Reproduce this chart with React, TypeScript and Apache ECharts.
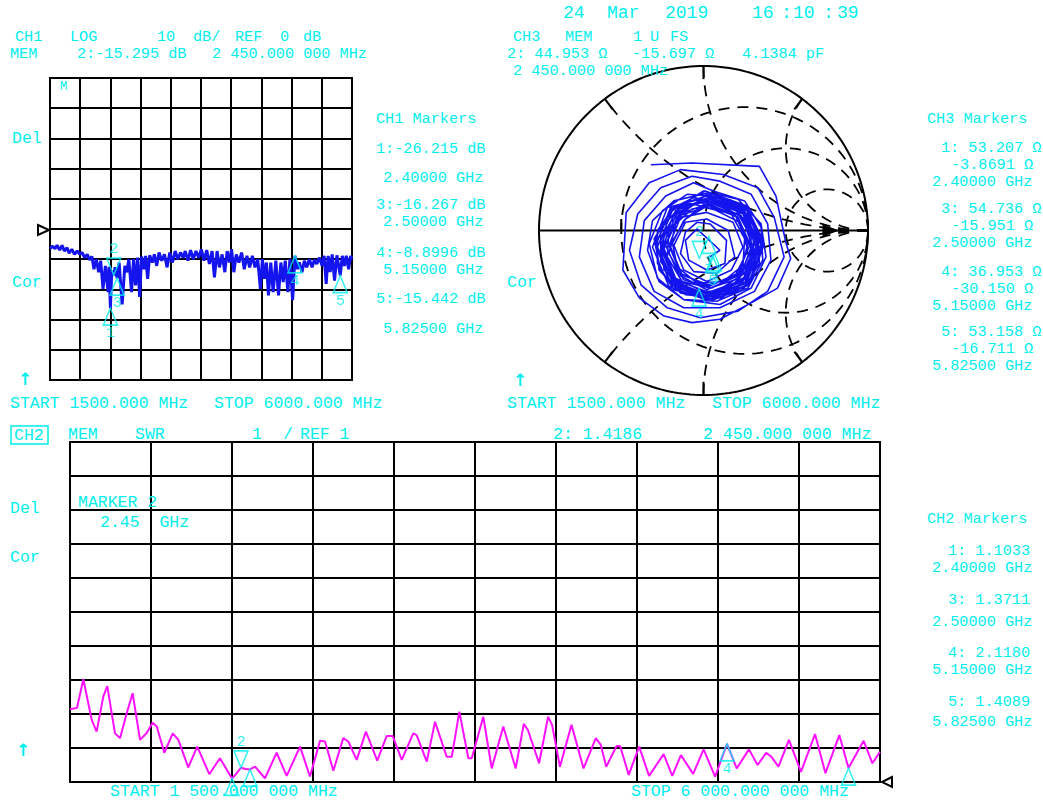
import React, { useEffect, useRef } from "react";
import * as echarts from "echarts";

const CYAN = "#00eeee";
const BLUE = "#1414ee";
const MAGENTA = "#ff10ff";
const FONT = "'Liberation Mono', 'DejaVu Sans Mono', monospace";
const FS = 16.5;
const FS_M = 15.2;

// ---------- data ----------
const ch1Freq = [1500, 1540, 1575, 1605, 1645, 1680, 1715, 1755, 1785, 1825, 1865, 1905, 1945, 1980, 2015, 2055, 2090, 2125, 2155, 2190, 2225, 2255, 2290, 2325, 2365, 2380, 2400, 2420, 2450, 2470, 2500, 2530, 2575, 2615, 2645, 2675, 2715, 2745, 2775, 2805, 2835, 2865, 2900, 2925, 2955, 2985, 3025, 3055, 3090, 3125, 3165, 3205, 3245, 3285, 3325, 3365, 3405, 3445, 3485, 3515, 3555, 3595, 3635, 3675, 3715, 3755, 3795, 3835, 3875, 3915, 3950, 3990, 4025, 4065, 4105, 4140, 4175, 4205, 4240, 4275, 4315, 4355, 4395, 4435, 4475, 4515, 4555, 4595, 4635, 4665, 4695, 4725, 4755, 4790, 4825, 4865, 4905, 4940, 4975, 5005, 5045, 5075, 5115, 5150, 5185, 5215, 5255, 5290, 5325, 5365, 5405, 5440, 5475, 5515, 5555, 5585, 5615, 5645, 5675, 5705, 5740, 5775, 5825, 5855, 5885, 5915, 5950, 5980, 6000];
const ch1Db = [-6.5, -5.7, -6.5, -5.4, -7.0, -5.4, -7.3, -6.2, -8.0, -6.7, -8.4, -7.3, -8.4, -7.8, -9.5, -8.4, -10.2, -9.1, -13.3, -10.0, -14.3, -10.5, -19.8, -12.2, -20.9, -12.5, -26.2, -14.0, -15.3, -12.7, -16.3, -11.1, -25.0, -12.2, -14.3, -10.0, -20.9, -10.0, -18.7, -9.5, -22.5, -9.1, -13.3, -8.9, -16.5, -8.7, -11.1, -8.4, -12.2, -7.8, -10.5, -8.4, -12.7, -7.8, -11.1, -7.3, -10.0, -7.8, -9.5, -7.3, -10.5, -7.0, -10.0, -7.3, -9.5, -6.7, -10.5, -7.0, -11.6, -7.3, -16.0, -7.3, -12.7, -8.4, -14.3, -7.3, -11.1, -6.7, -14.3, -8.4, -11.1, -7.8, -13.3, -8.9, -12.7, -8.9, -12.7, -10.0, -19.8, -10.0, -16.5, -11.1, -22.0, -11.1, -20.9, -10.5, -22.0, -11.1, -17.6, -10.5, -20.9, -10.0, -23.6, -8.9, -13.3, -11.1, -14.3, -10.5, -12.7, -10.0, -12.7, -10.2, -11.6, -9.5, -12.2, -8.9, -18.2, -8.9, -14.3, -8.4, -17.1, -8.7, -15.4, -8.9, -12.2, -8.9, -13.3, -8.9, -10.0];

const ch2Freq = [1500, 1539, 1574, 1621, 1648, 1685, 1707, 1750, 1778, 1815, 1848, 1889, 1926, 1959, 1982, 2024, 2071, 2102, 2157, 2207, 2274, 2333, 2400, 2425, 2450, 2475, 2500, 2528, 2583, 2648, 2704, 2778, 2833, 2889, 2917, 2963, 3018, 3046, 3093, 3144, 3207, 3259, 3293, 3343, 3407, 3426, 3482, 3528, 3593, 3621, 3663, 3713, 3732, 3796, 3843, 3907, 3976, 4021, 4044, 4106, 4156, 4178, 4222, 4286, 4353, 4421, 4449, 4479, 4537, 4556, 4604, 4662, 4717, 4798, 4846, 4894, 4962, 5020, 5084, 5150, 5204, 5272, 5320, 5368, 5397, 5436, 5494, 5561, 5639, 5697, 5774, 5825, 5909, 5958, 6000];
const ch2Swr = [3.14, 3.18, 4.02, 2.82, 2.48, 3.51, 3.82, 2.43, 2.29, 3.02, 3.61, 2.24, 2.44, 2.74, 2.63, 1.86, 2.43, 2.24, 1.43, 2.04, 1.23, 1.70, 1.10, 1.25, 1.42, 1.38, 1.37, 1.45, 1.11, 1.86, 1.18, 2.04, 1.16, 2.21, 2.19, 1.33, 2.29, 2.19, 1.65, 2.48, 1.63, 2.35, 2.35, 1.65, 2.43, 2.38, 1.60, 2.77, 1.74, 1.74, 3.07, 1.70, 1.70, 2.92, 1.40, 2.63, 1.40, 2.71, 2.53, 1.55, 2.92, 2.68, 1.45, 2.68, 1.40, 2.29, 2.09, 1.45, 2.06, 2.06, 1.21, 2.04, 1.18, 1.82, 1.18, 1.79, 1.24, 1.96, 1.16, 2.12, 1.40, 1.96, 1.50, 1.86, 1.74, 1.45, 2.24, 1.30, 2.41, 1.26, 2.38, 1.41, 2.21, 1.55, 1.89];

const smithTrace: [number, number][] = [
  [-0.32, 0.40], [-0.07, 0.41], [0.34, 0.39], [0.44, 0.21], [0.50, -0.07], [0.53, -0.17], [0.45, -0.35], [0.29, -0.44], [0.10, -0.54], [-0.07, -0.56], [-0.24, -0.52], [-0.39, -0.41], [-0.49, -0.24], [-0.47, 0.11], [-0.33, 0.29], [-0.14, 0.37],
  [0.12, 0.34], [0.33, 0.26], [0.43, 0.08], [0.49, -0.16], [0.39, -0.37], [0.21, -0.49], [-0.02, -0.53], [-0.22, -0.47], [-0.38, -0.33], [-0.45, -0.12], [-0.40, 0.10], [-0.26, 0.26], [-0.07, 0.33],
  [0.10, 0.30], [0.29, 0.22], [0.39, 0.04], [0.41, -0.18], [0.31, -0.37], [0.10, -0.47], [-0.12, -0.47], [-0.30, -0.37], [-0.39, -0.16], [-0.36, 0.06], [-0.23, 0.21], [-0.06, 0.29],
  [0.06, 0.24], [0.25, 0.18], [0.35, 0.02], [0.36, -0.18], [0.27, -0.35], [0.08, -0.43], [-0.12, -0.42], [-0.27, -0.31], [-0.34, -0.12], [-0.31, 0.06], [-0.18, 0.18],
  [0.03, 0.23], [0.26, 0.14], [0.36, -0.09], [0.27, -0.33], [0.03, -0.42], [-0.20, -0.33], [-0.29, -0.09], [-0.20, 0.14],
  [0.05, 0.22], [0.22, 0.16], [0.33, 0.00], [0.34, -0.20], [0.24, -0.36], [0.05, -0.42], [-0.14, -0.38], [-0.27, -0.24], [-0.29, -0.04], [-0.19, 0.13],
  [0.01, 0.24], [0.26, 0.15], [0.37, -0.08], [0.28, -0.33], [0.04, -0.43], [-0.21, -0.34], [-0.31, -0.10], [-0.22, 0.14],
  [-0.02, 0.19], [0.18, 0.15], [0.30, -0.01], [0.31, -0.21], [0.19, -0.36], [-0.01, -0.40], [-0.18, -0.32], [-0.26, -0.14], [-0.22, 0.06], [-0.10, 0.17],
  [0.02, 0.21], [0.25, 0.12], [0.34, -0.10], [0.25, -0.32], [0.02, -0.40], [-0.19, -0.31], [-0.28, -0.10], [-0.19, 0.12],
  [0.00, 0.24], [0.21, 0.19], [0.35, 0.04], [0.38, -0.16], [0.29, -0.35], [0.10, -0.45], [-0.12, -0.42], [-0.28, -0.29], [-0.33, -0.08], [-0.25, 0.12], [-0.10, 0.22],
  [0.04, 0.21], [0.23, 0.15], [0.33, -0.02], [0.31, -0.22], [0.19, -0.37], [0.00, -0.41], [-0.18, -0.36], [-0.28, -0.20], [-0.28, 0.00], [-0.18, 0.14], [-0.06, 0.20],
  [0.08, 0.17], [0.25, 0.07], [0.30, -0.13], [0.21, -0.31], [0.02, -0.38], [-0.17, -0.29], [-0.24, -0.11], [-0.16, 0.08],
  [0.02, 0.22], [0.26, 0.13], [0.35, -0.09], [0.26, -0.32], [0.02, -0.41], [-0.20, -0.32], [-0.29, -0.09], [-0.20, 0.13],
  [0.03, 0.18], [0.20, 0.12], [0.29, -0.04], [0.28, -0.22], [0.16, -0.35], [-0.02, -0.38], [-0.18, -0.30], [-0.25, -0.13], [-0.20, 0.05], [-0.09, 0.15],
  [0.03, 0.20], [0.25, 0.11], [0.33, -0.10], [0.24, -0.31], [0.03, -0.39], [-0.18, -0.31], [-0.26, -0.09], [-0.17, 0.12],
  [0.07, 0.21], [0.27, 0.12], [0.36, -0.07], [0.30, -0.28], [0.11, -0.41], [-0.11, -0.39], [-0.26, -0.25], [-0.30, -0.05], [-0.18, 0.14],
  [0.06, 0.18], [0.25, 0.10], [0.31, -0.08], [0.25, -0.26], [0.08, -0.37], [-0.10, -0.37], [-0.24, -0.24], [-0.26, -0.06], [-0.18, 0.09], [-0.06, 0.16],
  [0.06, 0.13], [0.22, 0.05], [0.27, -0.12], [0.19, -0.28], [0.03, -0.33], [-0.13, -0.27], [-0.20, -0.10], [-0.12, 0.06],
  [0.04, 0.19], [0.24, 0.10], [0.32, -0.10], [0.24, -0.30], [0.04, -0.38], [-0.17, -0.30], [-0.25, -0.10], [-0.16, 0.11],
  [0.04, 0.20], [0.24, 0.13], [0.33, -0.06], [0.27, -0.27], [0.08, -0.39], [-0.13, -0.35], [-0.26, -0.19], [-0.26, 0.01], [-0.13, 0.16],
  [0.04, 0.17], [0.23, 0.09], [0.30, -0.10], [0.22, -0.27], [0.02, -0.36], [-0.15, -0.27], [-0.23, -0.09], [-0.15, 0.09],
  [0.01, 0.14], [0.17, 0.10], [0.25, -0.05], [0.24, -0.21], [0.12, -0.31], [-0.04, -0.32], [-0.16, -0.22], [-0.19, -0.07], [-0.11, 0.07],
  [0.04, 0.16], [0.21, 0.08], [0.29, -0.10], [0.22, -0.29], [0.04, -0.35], [-0.13, -0.31], [-0.22, -0.16], [-0.21, 0.00], [-0.12, 0.11],
  [0.02, 0.16], [0.19, 0.10], [0.27, -0.08], [0.22, -0.26], [0.05, -0.35], [-0.12, -0.30], [-0.21, -0.14], [-0.17, 0.04], [-0.07, 0.13],
  [0.03, 0.15], [0.21, 0.08], [0.28, -0.09], [0.21, -0.26], [0.03, -0.34], [-0.14, -0.26], [-0.21, -0.09], [-0.14, 0.08],
  [0.02, 0.11], [0.18, 0.05], [0.24, -0.10], [0.17, -0.24], [0.02, -0.31], [-0.12, -0.24], [-0.18, -0.09], [-0.11, 0.05],
  [0.02, 0.07], [0.15, 0.00], [0.19, -0.16], [0.08, -0.26], [-0.06, -0.25], [-0.14, -0.14], [-0.11, -0.01], [-0.04, 0.05],
  [0.04, 0.04], [0.14, -0.06], [0.13, -0.20], [0.02, -0.24], [-0.09, -0.18], [-0.11, -0.06], [-0.04, 0.01],
  [0.10, -0.12], [0.04, -0.16],
];

const markerNames = ["1", "2", "3", "4", "5"];
const markerFreq = [2400, 2450, 2500, 5150, 5825];
const ch1MarkerDb = [-26.215, -15.295, -16.267, -8.8996, -15.442];
const ch2MarkerSwr = [1.1033, 1.4186, 1.3711, 2.118, 1.4089];
const ch3MarkerR = [53.207, 44.953, 54.736, 36.953, 53.158];
const ch3MarkerX = [-3.8691, -15.697, -15.951, -30.15, -16.711];
const ch2HiddenLabels = ["1", "3", "5"]; // labels fall below the bottom edge
const Z0 = 50;
const ACTIVE = 1;

// Smith graticule values
const rCircles = [1 / 3, 1, 3];
const xArcs = [0.5, 1, 2];

// ---------- helpers ----------
function gamma(R: number, X: number): [number, number] {
  const zr = R / Z0, zi = X / Z0;
  const nr = zr - 1, ni = zi, dr = zr + 1, di = zi;
  const d = dr * dr + di * di;
  return [(nr * dr + ni * di) / d, (ni * dr - nr * di) / d];
}

function circlePts(cx: number, cy: number, r: number, a0: number, a1: number, n = 160) {
  const pts: number[][] = [];
  for (let i = 0; i <= n; i++) {
    const a = a0 + ((a1 - a0) * i) / n;
    pts.push([cx + r * Math.cos(a), cy + r * Math.sin(a)]);
  }
  return pts;
}

function xArcPts(x: number) {
  const ax = Math.abs(x);
  const cy = 1 / ax, r = 1 / ax;
  const p2x = (ax * ax - 1) / (ax * ax + 1), p2y = (2 * ax) / (ax * ax + 1);
  const a0 = -Math.PI / 2;
  let a1 = Math.atan2(p2y - cy, p2x - 1);
  if (a1 > a0) a1 -= 2 * Math.PI;
  const pts = circlePts(1, cy, r, a0, a1, 100);
  return x < 0 ? pts.map((p) => [p[0], -p[1]]) : pts;
}

function gratLine(data: number[][], dashed: boolean, width = 1.8) {
  return {
    type: "line",
    xAxisIndex: 2,
    yAxisIndex: 1,
    data,
    showSymbol: false,
    silent: true,
    z: 1,
    lineStyle: { color: "#000", width, type: dashed ? [11, 8] : "solid" },
  };
}

function markerSeries(xIdx: number, yIdx: number, pts: any[], active: boolean) {
  return {
    type: "scatter",
    xAxisIndex: xIdx,
    yAxisIndex: yIdx,
    data: pts,
    symbol: active ? "path://M0 0 L14 0 L7 17 Z" : "path://M7 0 L14 17 L0 17 Z",
    symbolSize: [14, 17],
    symbolOffset: [0, active ? -8.5 : 8.5],
    silent: true,
    z: 10,
    itemStyle: { color: "rgba(0,0,0,0)", borderColor: CYAN, borderWidth: 1.6 },
    label: {
      show: true,
      position: active ? "top" : "bottom",
      distance: 0,
      formatter: "{b}",
      color: CYAN,
      fontSize: 15,
      fontFamily: FONT,
    },
  };
}

function markerSet(xIdx: number, yIdx: number, xs: number[], ys: number[], hidden: string[] = []) {
  const all = xs.map((x, i) => {
    const item: any = { value: [x, ys[i]], name: markerNames[i] };
    if (hidden.includes(markerNames[i])) item.label = { show: false };
    return item;
  });
  return [
    markerSeries(xIdx, yIdx, all.filter((_, i) => i !== ACTIVE), false),
    markerSeries(xIdx, yIdx, all.filter((_, i) => i === ACTIVE), true),
  ];
}

function txt(x: number, y: number, s: string, size = FS, align = "left", family = FONT, weight = "normal") {
  return {
    type: "text",
    x,
    y,
    silent: true,
    z: 20,
    style: {
      text: s,
      fill: CYAN,
      fontSize: size,
      fontFamily: family,
      fontWeight: weight,
      textAlign: align,
      textVerticalAlign: "middle",
      align,
      verticalAlign: "middle",
    },
  };
}

function arrowUp(x: number, y: number) {
  return txt(x, y, "↑", 17, "center", "'DejaVu Sans', sans-serif", "bold");
}

function gridAxis(g: number) {
  return {
    gridIndex: g,
    type: "value",
    min: 0,
    max: 10,
    interval: 1,
    axisLine: { show: false },
    axisTick: { show: false },
    axisLabel: { show: false },
    splitLine: { show: true, lineStyle: { color: "#000", width: 2 } },
  };
}

function buildOption() {
  const smithMarkers = ch3MarkerR.map((R, i) => gamma(R, ch3MarkerX[i]));

  const grat: any[] = [];
  grat.push(gratLine(circlePts(0, 0, 1, 0, Math.PI * 2, 240), false, 2));
  grat.push(gratLine([[-1, 0], [1, 0]], false, 2));
  rCircles.forEach((r) => grat.push(gratLine(circlePts(r / (1 + r), 0, 1 / (1 + r), 0, Math.PI * 2, 200), true)));
  xArcs.forEach((x) => {
    grat.push(gratLine(xArcPts(x), true));
    grat.push(gratLine(xArcPts(-x), true));
    const px = (x * x - 1) / (x * x + 1), py = (2 * x) / (x * x + 1);
    grat.push(gratLine([[px, py], [px * 0.92, py * 0.92]], false, 2));
    grat.push(gratLine([[px, -py], [px * 0.92, -py * 0.92]], false, 2));
  });
  grat.push(gratLine([[-0.5, 0], [-0.5, 0.07]], false, 2));

  const texts: any[] = [
    // date
    txt(563, 13, "24", 18), txt(607, 13, "Mar", 18), txt(665, 13, "2019", 18),
    txt(752, 13, "16", 18), txt(781, 13, ":", 18), txt(793, 13, "10", 18), txt(823, 13, ":", 18), txt(837, 13, "39", 18),
    // CH1 header
    txt(15, 37, "CH1", FS_M), txt(70, 37, "LOG", FS_M), txt(157, 37, "10", FS_M), txt(193, 37, "dB/", FS_M), txt(235, 37, "REF", FS_M), txt(280, 37, "0", FS_M), txt(303, 37, "dB", FS_M),
    txt(10, 54, "MEM", FS_M), txt(77, 54, "2:-15.295 dB", FS_M), txt(212, 54, "2 450.000 000 MHz", FS_M),
    txt(60, 87, "M", 12),
    txt(12, 138, "Del"), txt(12, 282, "Cor"),
    arrowUp(25, 379),
    txt(10, 403, "START 1500.000 MHz"), txt(214, 403, "STOP 6000.000 MHz"),
    // CH1 markers
    txt(376, 119, "CH1 Markers", FS_M),
    txt(376, 149, "1:-26.215 dB", FS_M), txt(383, 178, "2.40000 GHz", FS_M),
    txt(376, 205, "3:-16.267 dB", FS_M), txt(383, 222, "2.50000 GHz", FS_M),
    txt(376, 253, "4:-8.8996 dB", FS_M), txt(383, 270, "5.15000 GHz", FS_M),
    txt(376, 299, "5:-15.442 dB", FS_M), txt(383, 329, "5.82500 GHz", FS_M),
    // CH3 header
    txt(513, 37, "CH3", FS_M), txt(565, 37, "MEM", FS_M), txt(633, 37, "1", FS_M), txt(650, 37, "U", FS_M), txt(670, 37, "FS", FS_M),
    txt(507, 54, "2: 44.953 Ω", FS_M), txt(632, 54, "-15.697 Ω", FS_M), txt(742, 54, "4.1384 pF", FS_M),
    txt(513, 71, "2 450.000 000 MHz", FS_M),
    txt(507, 282, "Cor"),
    arrowUp(520, 380),
    txt(507, 403, "START 1500.000 MHz"), txt(712, 403, "STOP 6000.000 MHz"),
    // CH3 markers
    txt(927, 119, "CH3 Markers", FS_M),
    txt(941, 148, "1: 53.207 Ω", FS_M), txt(951, 165, "-3.8691 Ω", FS_M), txt(932, 182, "2.40000 GHz", FS_M),
    txt(941, 209, "3: 54.736 Ω", FS_M), txt(951, 226, "-15.951 Ω", FS_M), txt(932, 243, "2.50000 GHz", FS_M),
    txt(941, 272, "4: 36.953 Ω", FS_M), txt(951, 289, "-30.150 Ω", FS_M), txt(932, 306, "5.15000 GHz", FS_M),
    txt(941, 332, "5: 53.158 Ω", FS_M), txt(951, 349, "-16.711 Ω", FS_M), txt(932, 366, "5.82500 GHz", FS_M),
    // CH2 header
    txt(14, 435, "CH2"), txt(68, 434, "MEM"), txt(135, 434, "SWR"), txt(252, 434, "1"), txt(283, 434, "/"), txt(300, 434, "REF 1"),
    txt(553, 434, "2: 1.4186"), txt(703, 434, "2 450.000 000 MHz"),
    txt(10, 508, "Del"), txt(78, 502, "MARKER 2"), txt(100, 522, "2.45  GHz"), txt(10, 557, "Cor"),
    arrowUp(23, 750),
    txt(110, 791, "START 1 500.000 000 MHz"), txt(631, 791, "STOP 6 000.000 000 MHz"),
    // CH2 markers
    txt(927, 519, "CH2 Markers", FS_M),
    txt(948, 551, "1: 1.1033", FS_M), txt(932, 568, "2.40000 GHz", FS_M),
    txt(948, 600, "3: 1.3711", FS_M), txt(932, 622, "2.50000 GHz", FS_M),
    txt(948, 653, "4: 2.1180", FS_M), txt(932, 670, "5.15000 GHz", FS_M),
    txt(948, 702, "5: 1.4089", FS_M), txt(932, 722, "5.82500 GHz", FS_M),
  ];

  const shapes: any[] = [
    { type: "rect", silent: true, z: 20, shape: { x: 11, y: 426, width: 37, height: 18 }, style: { fill: "none", stroke: CYAN, lineWidth: 1.5 } },
    { type: "polygon", silent: true, z: 20, shape: { points: [[38, 225], [49, 230], [38, 235]] }, style: { fill: "#fff", stroke: "#000", lineWidth: 2 } },
    { type: "polygon", silent: true, z: 20, shape: { points: [[892, 777], [882, 782], [892, 787]] }, style: { fill: "#fff", stroke: "#000", lineWidth: 2 } },
    { type: "polygon", silent: true, z: 5, shape: { points: [[823, 225], [838, 230.5], [823, 236]] }, style: { fill: "#000", stroke: "#000", lineWidth: 1 } },
  ];

  return {
    animation: false,
    backgroundColor: "#ffffff",
    grid: [
      { left: 50, top: 78, width: 302, height: 302, show: true, borderColor: "#000", borderWidth: 2, backgroundColor: "transparent" },
      { left: 539, top: 66, width: 329, height: 329, show: false },
      { left: 70, top: 442, width: 810, height: 340, show: true, borderColor: "#000", borderWidth: 2, backgroundColor: "transparent" },
    ],
    xAxis: [
      gridAxis(0),
      { gridIndex: 0, type: "value", min: 1500, max: 6000, show: false },
      { gridIndex: 1, type: "value", min: -1, max: 1, show: false },
      gridAxis(2),
      { gridIndex: 2, type: "value", min: 1500, max: 6000, show: false },
    ],
    yAxis: [
      {
        gridIndex: 0, type: "value", min: -50, max: 50, interval: 10,
        axisLine: { show: false }, axisTick: { show: false }, axisLabel: { show: false },
        splitLine: { show: true, lineStyle: { color: "#000", width: 2 } },
      },
      { gridIndex: 1, type: "value", min: -1, max: 1, show: false },
      {
        gridIndex: 2, type: "value", min: 1, max: 11, interval: 1,
        axisLine: { show: false }, axisTick: { show: false }, axisLabel: { show: false },
        splitLine: { show: true, lineStyle: { color: "#000", width: 2 } },
      },
    ],
    series: [
      {
        type: "line", xAxisIndex: 1, yAxisIndex: 0, showSymbol: false, silent: true, z: 4,
        data: ch1Freq.map((f, i) => [f, ch1Db[i]]),
        lineStyle: { color: BLUE, width: 3 },
      },
      ...markerSet(1, 0, markerFreq, ch1MarkerDb),
      ...grat,
      {
        type: "line", xAxisIndex: 2, yAxisIndex: 1, showSymbol: false, silent: true, z: 4,
        data: smithTrace,
        lineStyle: { color: BLUE, width: 1.6 },
      },
      ...markerSet(2, 1, smithMarkers.map((g) => g[0]), smithMarkers.map((g) => g[1])),
      {
        type: "line", xAxisIndex: 4, yAxisIndex: 2, showSymbol: false, silent: true, z: 4,
        data: ch2Freq.map((f, i) => [f, ch2Swr[i]]),
        lineStyle: { color: MAGENTA, width: 2 },
      },
      ...markerSet(4, 2, markerFreq, ch2MarkerSwr, ch2HiddenLabels),
    ],
    graphic: { elements: [...shapes, ...texts] },
  };
}

export default function App() {
  const ref = useRef<HTMLDivElement>(null);
  useEffect(() => {
    document.body.style.margin = "0";
    const chart = echarts.init(ref.current as HTMLDivElement, null, { renderer: "svg" });
    chart.setOption(buildOption() as any);
    return () => chart.dispose();
  }, []);
  return <div ref={ref} style={{ width: 1043, height: 802, background: "#fff" }} />;
}
